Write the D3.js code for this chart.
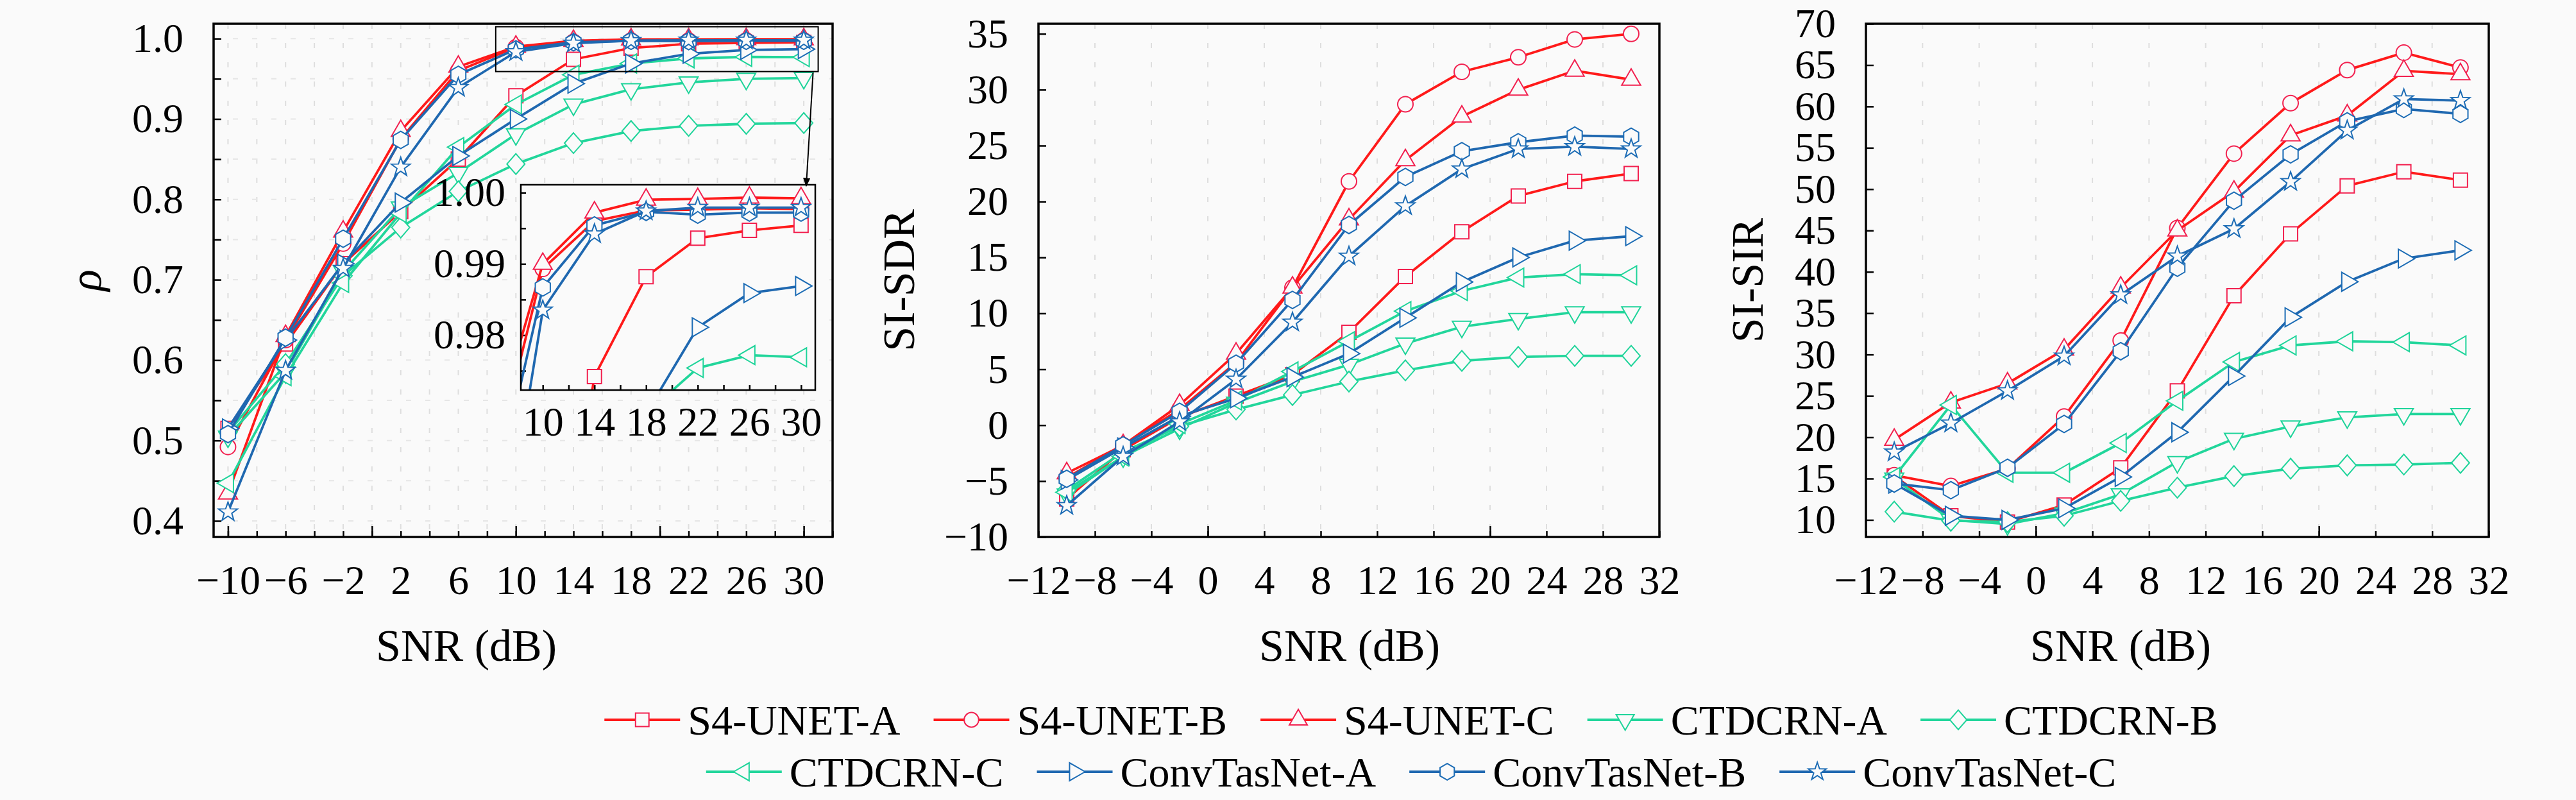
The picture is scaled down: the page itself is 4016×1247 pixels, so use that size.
<!DOCTYPE html>
<html>
<head>
<meta charset="utf-8">
<script src="https://d3js.org/d3.v7.min.js"></script>
<style>
  body { margin: 0; background: #fafafa; }
  svg text { font-family: "Liberation Serif", "DejaVu Serif", serif; fill: #000; }
</style>
</head>
<body>
<div id="chart"></div>
<script>
// ---------------- data ----------------
const snr = [-10, -6, -2, 2, 6, 10, 14, 18, 22, 26, 30];

const models = ["S4-UNET-A", "S4-UNET-B", "S4-UNET-C",
                "CTDCRN-A", "CTDCRN-B", "CTDCRN-C",
                "ConvTasNet-A", "ConvTasNet-B", "ConvTasNet-C"];

// rho, one row per model (same order as models)
const rhoValues = [
  [0.515, 0.620, 0.720, 0.785, 0.850, 0.929, 0.9742, 0.9882, 0.9936, 0.9947, 0.9954],
  [0.492, 0.625, 0.745, 0.875, 0.960, 0.9893, 0.9960, 0.9975, 0.9976, 0.9978, 0.9977],
  [0.434, 0.630, 0.760, 0.885, 0.965, 0.9900, 0.9972, 0.9990, 0.9991, 0.9993, 0.9992],
  [0.505, 0.585, 0.710, 0.790, 0.833, 0.881, 0.918, 0.937, 0.9455, 0.950, 0.951],
  [0.510, 0.595, 0.705, 0.765, 0.810, 0.844, 0.870, 0.885, 0.8915, 0.894, 0.895],
  [0.447, 0.580, 0.696, 0.783, 0.865, 0.918, 0.955, 0.969, 0.9754, 0.9772, 0.9769],
  [0.515, 0.625, 0.720, 0.796, 0.854, 0.900, 0.944, 0.969, 0.9811, 0.9859, 0.9869],
  [0.508, 0.628, 0.751, 0.874, 0.955, 0.9867, 0.9954, 0.9973, 0.9969, 0.9972, 0.9972],
  [0.411, 0.587, 0.714, 0.840, 0.939, 0.9835, 0.9942, 0.9974, 0.9979, 0.9979, 0.9979]
];

const sdrValues = [
  [-6.6, -2.2, 0.7, 2.6, 4.5, 8.3, 13.3, 17.3, 20.5, 21.8, 22.5],
  [-4.7, -1.8, 1.4, 5.6, 12.3, 21.8, 28.7, 31.6, 32.9, 34.5, 35.0],
  [-4.3, -1.8, 1.8, 6.4, 12.3, 18.4, 23.7, 27.6, 30.0, 31.7, 30.9],
  [-6.2, -2.8, -0.3, 2.0, 3.9, 5.4, 7.3, 8.8, 9.5, 10.1, 10.1],
  [-5.8, -2.4, -0.1, 1.4, 2.7, 3.9, 4.9, 5.75, 6.1, 6.2, 6.2],
  [-6.0, -2.8, 0.1, 2.2, 4.8, 7.5, 10.2, 12.0, 13.2, 13.5, 13.4],
  [-4.9, -2.0, 0.8, 2.4, 4.3, 6.4, 9.6, 12.8, 15.0, 16.5, 16.9],
  [-4.8, -1.8, 1.2, 5.5, 11.2, 17.9, 22.2, 24.5, 25.3, 25.9, 25.8],
  [-7.2, -2.8, 0.3, 4.1, 9.2, 15.1, 19.6, 22.9, 24.7, 24.9, 24.7]
];

const sirValues = [
  [15.3, 10.5, 9.75, 11.8, 16.3, 25.6, 37.1, 44.6, 50.4, 52.1, 51.1],
  [15.4, 14.1, 16.2, 22.5, 31.7, 45.3, 54.3, 60.4, 64.4, 66.5, 64.7],
  [19.7, 24.2, 26.5, 30.6, 38.1, 45.0, 49.7, 56.5, 58.9, 64.3, 63.9],
  [15.0, 10.0, 9.5, 10.8, 13.1, 17.0, 19.8, 21.3, 22.4, 22.8, 22.8],
  [11.0, 9.9, 9.75, 10.5, 12.3, 13.9, 15.3, 16.2, 16.6, 16.7, 16.9],
  [15.2, 23.9, 15.7, 15.7, 19.3, 24.4, 29.1, 31.1, 31.6, 31.5, 31.1],
  [14.4, 10.5, 10.0, 11.4, 15.2, 20.6, 27.4, 34.5, 38.8, 41.6, 42.6],
  [14.4, 13.6, 16.3, 21.6, 30.4, 40.5, 48.6, 54.2, 58.2, 59.7, 59.1],
  [18.2, 21.7, 25.6, 29.8, 37.2, 41.9, 45.2, 50.9, 57.1, 60.9, 60.7]
];

// tick labels
const snrTicksRho = [-10, -6, -2, 2, 6, 10, 14, 18, 22, 26, 30];
const snrTicks = [-12, -8, -4, 0, 4, 8, 12, 16, 20, 24, 28, 32];
const rhoTicks = [0.4, 0.5, 0.6, 0.7, 0.8, 0.9, 1.0];
const sdrTicks = [-10, -5, 0, 5, 10, 15, 20, 25, 30, 35];
const sirTicks = [10, 15, 20, 25, 30, 35, 40, 45, 50, 55, 60, 65, 70];
const insetXTicks = [10, 14, 18, 22, 26, 30];
const insetYTicks = [0.98, 0.99, 1.00];

// ---------------- styles ----------------
const serif = '"Liberation Serif", "DejaVu Serif", serif';
const red = "#ff1a1a", green = "#22d69b", blue = "#1f68b0";
const lineColors = [red, red, red, green, green, green, blue, blue, blue];
const markerStrokes = ["#f2204f", "#f2204f", "#f2204f", "#1fd49a", "#1fd49a", "#1fd49a", "#1c6cb5", "#1c6cb5", "#1c6cb5"];
const markerShapes = ["square", "circle", "triangle", "down", "diamond", "left", "right", "hexagon", "star"];

const W = 4016, H = 1247, bg = "#fafafa";
const plotTop = 37, plotBottom = 837;

const svg = d3.select("#chart").append("svg")
  .attr("width", W).attr("height", H).attr("font-family", serif);
svg.append("rect").attr("width", W).attr("height", H).attr("fill", bg);

function ngon(n, r, rot) {
  return d3.range(n).map(i => {
    const a = rot + i * 2 * Math.PI / n;
    return [r * Math.cos(a), r * Math.sin(a)];
  });
}
function poly(pts) { return "M" + pts.map(p => p[0].toFixed(2) + "," + p[1].toFixed(2)).join("L") + "Z"; }

function markerPath(name, s) {
  switch (name) {
    case "square": return poly([[-11, -11], [11, -11], [11, 11], [-11, 11]].map(p => [p[0] * s, p[1] * s]));
    case "circle": { const r = 12 * s; return `M${r},0A${r},${r} 0 1 1 ${-r},0A${r},${r} 0 1 1 ${r},0Z`; }
    case "triangle": return poly(ngon(3, 17 * s, -Math.PI / 2));
    case "down": return poly(ngon(3, 17 * s, Math.PI / 2));
    case "left": return poly(ngon(3, 17 * s, Math.PI));
    case "right": return poly(ngon(3, 17 * s, 0));
    case "diamond": return poly([[0, -16], [14, 0], [0, 16], [-14, 0]].map(p => [p[0] * s, p[1] * s]));
    case "hexagon": return poly(ngon(6, 13.5 * s, -Math.PI / 2));
    case "star": return poly(d3.range(10).map(i => {
      const r = (i % 2 ? 6.2 : 15.5) * s, a = -Math.PI / 2 + i * Math.PI / 5;
      return [r * Math.cos(a), r * Math.sin(a)];
    }));
  }
}

function drawSeries(g, x, y, values, scale) {
  values.forEach((vals, i) => {
    const pts = snr.map((s, k) => [s, vals[k]]);
    g.append("path")
      .attr("d", d3.line().x(d => x(d[0])).y(d => y(d[1]))(pts))
      .attr("fill", "none").attr("stroke", lineColors[i])
      .attr("stroke-width", 3.8).attr("stroke-linejoin", "round");
    g.selectAll(null).data(pts).enter().append("path")
      .attr("transform", d => `translate(${x(d[0])},${y(d[1])})`)
      .attr("d", markerPath(markerShapes[i], scale))
      .attr("fill", bg).attr("stroke", markerStrokes[i]).attr("stroke-width", 2);
  });
}

function tickAxis(g, axis, cls) {
  const a = g.append("g").attr("class", cls).call(axis);
  a.attr("font-family", serif).attr("font-size", 64);
  a.select(".domain").remove();
  a.selectAll(".tick line").attr("stroke", "#000").attr("stroke-width", 2.5);
  a.selectAll("text").style("font-family", serif).style("font-size", "64px").attr("fill", "#000");
  return a;
}

const panels = [
  { x0: 333, x1: 1298, xDom: [-11, 32], yDom: [0.38, 1.0185], values: rhoValues,
    xLabels: snrTicksRho, xMinor: d3.range(-10, 33, 2), xMajor: [-10, 0, 10, 20, 30],
    yLabels: rhoTicks, yMinor: d3.range(0.4, 1.001, 0.05), yFmt: d3.format(".1f"),
    ytitle: "ρ", ytitleX: 132, italic: true, xtitleX: 727, grid: d3.range(-10, 33, 2), hgrid: true },
  { x0: 1619, x1: 2587, xDom: [-12, 32], yDom: [-10, 35.9], values: sdrValues,
    xLabels: snrTicks, xMinor: snrTicks, xMajor: [0, 20],
    yLabels: sdrTicks, yMinor: sdrTicks, yFmt: d3.format("d"),
    ytitle: "SI-SDR", ytitleX: 1400, italic: false, xtitleX: 2104, grid: snrTicks, hgrid: false },
  { x0: 2909, x1: 3880, xDom: [-12, 32], yDom: [7.94, 70], values: sirValues,
    xLabels: snrTicks, xMinor: snrTicks, xMajor: [0, 20],
    yLabels: sirTicks, yMinor: sirTicks, yFmt: d3.format("d"),
    ytitle: "SI-SIR", ytitleX: 2723, italic: false, xtitleX: 3306, grid: snrTicks, hgrid: false }
];

const scales = [];
panels.forEach((p, pi) => {
  const x = d3.scaleLinear().domain(p.xDom).range([p.x0, p.x1]);
  const y = d3.scaleLinear().domain(p.yDom).range([plotBottom, plotTop]);
  scales.push({ x, y });
  const g = svg.append("g");

  // dashed grid
  g.append("g").selectAll("line").data(p.grid.filter(v => v > p.xDom[0] && v < p.xDom[1])).enter().append("line")
    .attr("x1", d => x(d)).attr("x2", d => x(d)).attr("y1", plotTop).attr("y2", plotBottom)
    .attr("stroke", "#dedede").attr("stroke-width", 2).attr("stroke-dasharray", "8,22");
  if (p.hgrid) {
    g.append("g").selectAll("line").data(p.yMinor).enter().append("line")
      .attr("x1", p.x0).attr("x2", p.x1).attr("y1", d => y(d)).attr("y2", d => y(d))
      .attr("stroke", "#e6e6e6").attr("stroke-width", 2).attr("stroke-dasharray", "8,22");
  }

  // ticks
  tickAxis(g.append("g").attr("transform", `translate(0,${plotBottom})`),
    d3.axisBottom(x).tickValues(p.xMinor).tickSize(-9).tickFormat(""), "xminor");
  tickAxis(g.append("g").attr("transform", `translate(0,${plotBottom})`),
    d3.axisBottom(x).tickValues(p.xMajor).tickSize(-17).tickFormat(""), "xmajor");
  tickAxis(g.append("g").attr("transform", `translate(0,${plotBottom})`),
    d3.axisBottom(x).tickValues(p.xLabels).tickSize(0).tickPadding(44).tickFormat(d3.format("d")), "xlab");
  tickAxis(g.append("g").attr("transform", `translate(${p.x0},0)`),
    d3.axisLeft(y).tickValues(p.yMinor).tickSize(-12).tickFormat(""), "yminor");
  tickAxis(g.append("g").attr("transform", `translate(${p.x0},0)`),
    d3.axisLeft(y).tickValues(p.yLabels).tickSize(0).tickPadding(47).tickFormat(p.yFmt), "ylab");

  drawSeries(g, x, y, p.values, 1);

  // frame
  g.append("rect").attr("x", p.x0).attr("y", plotTop).attr("width", p.x1 - p.x0).attr("height", plotBottom - plotTop)
    .attr("fill", "none").attr("stroke", "#000").attr("stroke-width", 3.5);

  // titles
  g.append("text").attr("x", p.xtitleX).attr("y", 1030).attr("text-anchor", "middle")
    .style("font-family", serif).style("font-size", "70px").text("SNR (dB)");
  g.append("text").attr("transform", `translate(${p.ytitleX},${(plotTop + plotBottom) / 2}) rotate(-90)`)
    .attr("text-anchor", "middle").attr("dy", "0.35em")
    .style("font-family", serif).style("font-size", "70px")
    .style("font-style", p.italic ? "italic" : "normal")
    .text(p.ytitle);
});

// ---------------- zoom inset on rho ----------------
const m = scales[0];
const zoomX = [8.6, 31.0], zoomY = [0.959, 1.0148];
const ins = { x0: 812, x1: 1271, y0: 288, y1: 608 };
const ix = d3.scaleLinear().domain([8.3, 31.1]).range([ins.x0, ins.x1]);
const iy = d3.scaleLinear().domain([0.9723, 1.0011]).range([ins.y1, ins.y0]);

const defs = svg.append("defs");
defs.append("clipPath").attr("id", "insclip").append("rect")
  .attr("x", ins.x0).attr("y", ins.y0).attr("width", ins.x1 - ins.x0).attr("height", ins.y1 - ins.y0);
defs.append("marker").attr("id", "arrow").attr("viewBox", "0 0 10 10")
  .attr("refX", 9).attr("refY", 5).attr("markerWidth", 7).attr("markerHeight", 7)
  .attr("orient", "auto").append("path").attr("d", "M0,1L10,5L0,9Z").attr("fill", "#000");

svg.append("rect")
  .attr("x", m.x(zoomX[0])).attr("y", m.y(zoomY[1]))
  .attr("width", m.x(zoomX[1]) - m.x(zoomX[0])).attr("height", m.y(zoomY[0]) - m.y(zoomY[1]))
  .attr("fill", "none").attr("stroke", "#000").attr("stroke-width", 2);

const ig = svg.append("g");
ig.append("rect").attr("x", ins.x0).attr("y", ins.y0)
  .attr("width", ins.x1 - ins.x0).attr("height", ins.y1 - ins.y0).attr("fill", bg);
tickAxis(ig.append("g").attr("transform", `translate(0,${ins.y1})`),
  d3.axisBottom(ix).tickValues(d3.range(10, 31, 2)).tickSize(-8).tickFormat(""), "ixminor");
tickAxis(ig.append("g").attr("transform", `translate(0,${ins.y1})`),
  d3.axisBottom(ix).tickValues(insetXTicks).tickSize(0).tickPadding(26).tickFormat(d3.format("d")), "ixlab");
tickAxis(ig.append("g").attr("transform", `translate(${ins.x0},0)`),
  d3.axisLeft(iy).tickValues([0.975, 0.98, 0.985, 0.99, 0.995, 1.0]).tickSize(-8).tickFormat(""), "iyminor");
tickAxis(ig.append("g").attr("transform", `translate(${ins.x0},0)`),
  d3.axisLeft(iy).tickValues(insetYTicks).tickSize(0).tickPadding(24).tickFormat(d3.format(".2f")), "iylab");
drawSeries(ig.append("g").attr("clip-path", "url(#insclip)"), ix, iy, rhoValues, 1);
ig.append("rect").attr("x", ins.x0).attr("y", ins.y0)
  .attr("width", ins.x1 - ins.x0).attr("height", ins.y1 - ins.y0)
  .attr("fill", "none").attr("stroke", "#000").attr("stroke-width", 2.5);

svg.append("line")
  .attr("x1", m.x(zoomX[1]) - 8).attr("y1", m.y(zoomY[0]) + 2)
  .attr("x2", ix(30.4)).attr("y2", ins.y0 + 2)
  .attr("stroke", "#000").attr("stroke-width", 2).attr("marker-end", "url(#arrow)");

// ---------------- legend ----------------
const legendRows = [[0, 1, 2, 3, 4], [5, 6, 7, 8]];
const legendY = [1122, 1203], legendCenter = 2200;
legendRows.forEach((row, r) => {
  const lg = svg.append("g");
  let cx = 0;
  row.forEach(i => {
    const e = lg.append("g").attr("transform", `translate(${cx},${legendY[r]})`);
    e.append("line").attr("x1", 0).attr("x2", 118).attr("y1", 0).attr("y2", 0)
      .attr("stroke", lineColors[i]).attr("stroke-width", 4);
    e.append("path").attr("transform", "translate(59,0)")
      .attr("d", markerPath(markerShapes[i], 0.95))
      .attr("fill", bg).attr("stroke", markerStrokes[i]).attr("stroke-width", 2);
    const t = e.append("text").attr("x", 130).attr("dy", "0.35em")
      .style("font-family", serif).style("font-size", "66px").text(models[i]);
    cx += 130 + t.node().getComputedTextLength() + 52;
  });
  lg.attr("transform", `translate(${legendCenter - (cx - 52) / 2},0)`);
});
</script>
</body>
</html>
